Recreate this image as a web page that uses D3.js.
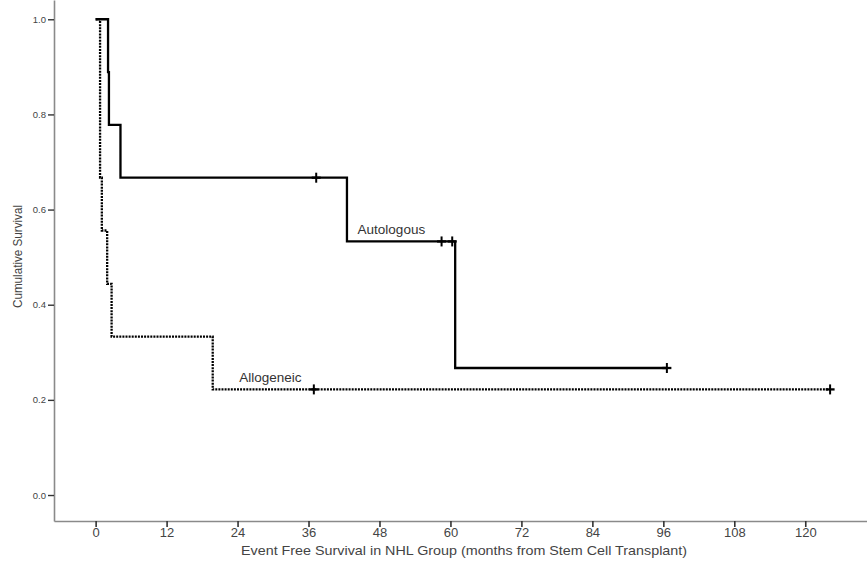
<!DOCTYPE html>
<html>
<head>
<meta charset="utf-8">
<script src="https://cdn.jsdelivr.net/npm/d3@7"></script>
<style>
  body { margin: 0; background: #fff; }
  text { font-family: "Liberation Sans", Arial, sans-serif; }
</style>
</head>
<body>
<div id="chart"></div>
<script>
// Kaplan-Meier steps (months, cumulative survival)
const autoTimes = [0, 2.1, 2.25, 4.2, 42.5, 60.8, 96.6];
const autoSurv = [1.0, 0.889, 0.778, 0.667, 0.533, 0.267, 0.267];
const autoCensored = [37.3, 58.5, 60.3, 96.6];

const alloTimes = [0, 0.75, 1.05, 1.95, 2.7, 19.8, 124.2];
const alloSurv = [1.0, 0.667, 0.556, 0.444, 0.333, 0.222, 0.222];
const alloCensored = [36.9, 124.2];

const xTicks = [0, 12, 24, 36, 48, 60, 72, 84, 96, 108, 120];
const yTicks = [0.0, 0.2, 0.4, 0.6, 0.8, 1.0];

const groups = [
  { name: "Autologous", times: autoTimes, surv: autoSurv, censored: autoCensored, dash: null, labelAt: [44.3, 0.533] },
  { name: "Allogeneic", times: alloTimes, surv: alloSurv, censored: alloCensored, dash: "2,1.1", labelAt: [24.3, 0.222] }
];

const width = 867;
const height = 567;

const svg = d3.select("#chart")
  .append("svg")
  .attr("width", width)
  .attr("height", height);

// scales
const x = d3.scaleLinear()
  .domain([-7.04, 130.44])
  .range([54, 867]);

const y = d3.scaleLinear()
  .domain([-0.0546, 1.0405])
  .range([521, 0]);

// X axis
const xAxis = svg.append("g")
  .attr("transform", "translate(0,521)")
  .call(d3.axisBottom(x).tickValues(xTicks).tickSize(6).tickSizeOuter(0).tickPadding(1));

xAxis.select(".domain").attr("stroke", "#8a8a8a").attr("stroke-width", 1.6);
xAxis.selectAll(".tick line").attr("stroke", "#333").attr("stroke-width", 1.6);
xAxis.selectAll(".tick text")
  .attr("fill", "#444")
  .style("font-size", "13px")
  .style("font-family", "'Liberation Sans', Arial, sans-serif");

// Y axis
const yAxis = svg.append("g")
  .attr("transform", "translate(54,0)")
  .call(d3.axisLeft(y).tickValues(yTicks).tickFormat(d3.format(".1f")).tickSize(6).tickSizeOuter(0).tickPadding(2));

yAxis.select(".domain").attr("stroke", "#8a8a8a").attr("stroke-width", 1.6);
yAxis.selectAll(".tick line").attr("stroke", "#333").attr("stroke-width", 1.4);
yAxis.selectAll(".tick text")
  .attr("fill", "#444")
  .style("font-size", "9.5px")
  .style("font-family", "'Liberation Sans', Arial, sans-serif");

// axis titles
svg.append("text")
  .attr("x", 464)
  .attr("y", 555)
  .attr("text-anchor", "middle")
  .attr("fill", "#444")
  .attr("textLength", 446)
  .attr("lengthAdjust", "spacingAndGlyphs")
  .style("font-size", "13.5px")
  .text("Event Free Survival in NHL Group (months from Stem Cell Transplant)");

svg.append("text")
  .attr("transform", "translate(22,256.5) rotate(-90)")
  .attr("text-anchor", "middle")
  .attr("fill", "#444")
  .attr("textLength", 103)
  .attr("lengthAdjust", "spacingAndGlyphs")
  .style("font-size", "12.5px")
  .text("Cumulative Survival");

// step line generator
const line = d3.line()
  .x(d => x(d[0]))
  .y(d => y(d[1]))
  .curve(d3.curveStepAfter);

groups.forEach(g => {
  const pts = g.times.map((t, i) => [t, g.surv[i]]);

  svg.append("path")
    .attr("d", line(pts))
    .attr("fill", "none")
    .attr("stroke", "#000")
    .attr("stroke-width", 2.3)
    .attr("stroke-dasharray", g.dash);

  // censor marks
  const marks = svg.append("g");
  g.censored.forEach(t => {
    const s = g.surv[d3.bisectRight(g.times, t) - 1];
    marks.append("line")
      .attr("x1", x(t)).attr("x2", x(t))
      .attr("y1", y(s) - 5).attr("y2", y(s) + 5)
      .attr("stroke", "#000").attr("stroke-width", 2);
    marks.append("line")
      .attr("x1", x(t) - 4.5).attr("x2", x(t) + 4.5)
      .attr("y1", y(s)).attr("y2", y(s))
      .attr("stroke", "#000").attr("stroke-width", 2.3);
  });

  // group label
  svg.append("text")
    .attr("x", x(g.labelAt[0]))
    .attr("y", y(g.labelAt[1]) - 7)
    .attr("fill", "#333")
    .style("font-size", "13.5px")
    .text(g.name);
});
</script>
</body>
</html>
